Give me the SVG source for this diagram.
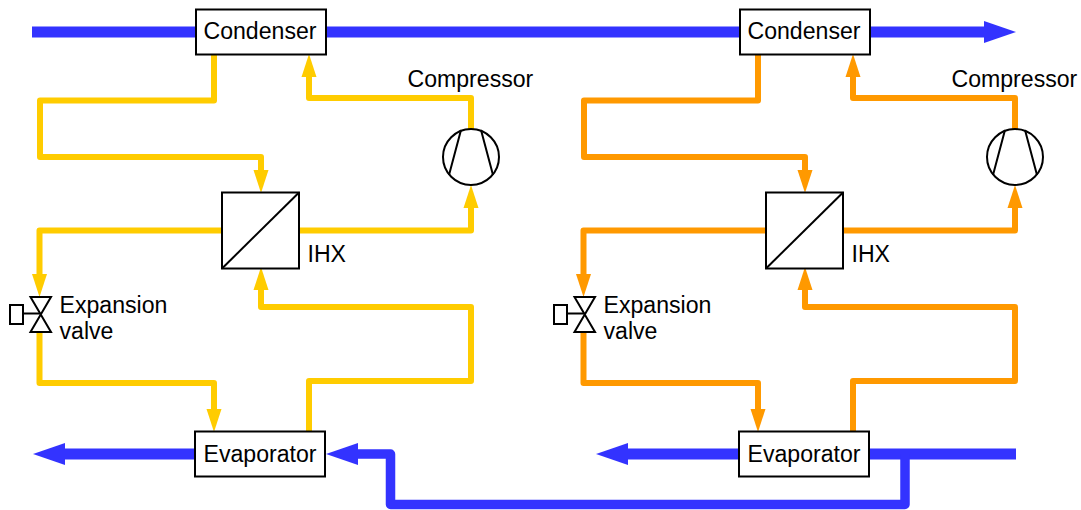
<svg xmlns="http://www.w3.org/2000/svg" width="1081" height="510" viewBox="0 0 1081 510">
<style>
text{font-family:"Liberation Sans",Arial,sans-serif;font-size:23.1px;fill:#000}
.box{fill:#fff;stroke:#000;stroke-width:2}
.sym{fill:#fff;stroke:#000;stroke-width:2}
.ln{fill:none;stroke:#000;stroke-width:2}
.y,.o,.b,.bt{fill:none;stroke-linejoin:round}
.y{stroke:#fc0;stroke-width:6}
.o{stroke:#f90;stroke-width:6}
.b{stroke:#33f;stroke-width:9.5}
.bt{stroke:#33f;stroke-width:11}
</style>
<defs>
<marker id="ay" markerUnits="userSpaceOnUse" markerWidth="24" markerHeight="16" viewBox="0 0 24 16" refX="0" refY="8" orient="auto"><path d="M0 0.5L23 8L0 15.5Z" fill="#fc0"/></marker>
<marker id="ao" markerUnits="userSpaceOnUse" markerWidth="24" markerHeight="16" viewBox="0 0 24 16" refX="0" refY="8" orient="auto"><path d="M0 0.5L23 8L0 15.5Z" fill="#f90"/></marker>
<marker id="ab" markerUnits="userSpaceOnUse" markerWidth="32" markerHeight="22" viewBox="0 0 32 22" refX="0" refY="11" orient="auto"><path d="M0 0L32 11L0 22Z" fill="#33f"/></marker>
<g id="comp-sym"><circle r="28" class="sym"/><path class="ln" d="M-10-27L-22 18M10-27L22 18"/></g>
<g id="hx-sym"><rect x="0" y="0" width="77" height="76" class="sym"/><path class="ln" d="M0 76L77 0"/></g>
<g id="valve-sym"><path class="sym" d="M30.500 297H51L30.500 332H51Z"/><rect x="10" y="305" width="13" height="19" class="sym"/><path class="ln" d="M23 313.500H40"/></g>
</defs>
<g id="connectors">
<path class="bt" d="M32 32H984" marker-end="url(#ab)"/>
<path class="bt" d="M195 454H65" marker-end="url(#ab)"/>
<path class="bt" d="M739 454H628" marker-end="url(#ab)"/>
<path class="bt" d="M869 454H1016"/>
<path class="b" d="M905 454V504.500H390.500V454H358" marker-end="url(#ab)"/>
<g id="left-circuit">
<path class="y" d="M214 55V100.500H40V157H261V170" marker-end="url(#ay)"/>
<path class="y" d="M471 129V98H309V77" marker-end="url(#ay)"/>
<path class="y" d="M299 230.500H471V208" marker-end="url(#ay)"/>
<path class="y" d="M222 230.500H39.500V274" marker-end="url(#ay)"/>
<path class="y" d="M39.500 332V383H214V409" marker-end="url(#ay)"/>
<path class="y" d="M309 431V381H471V307H261V290" marker-end="url(#ay)"/>
</g>
<g id="right-circuit">
<path class="o" d="M758 55V100.500H584V157H805V170" marker-end="url(#ao)"/>
<path class="o" d="M1015 129V98H853V77" marker-end="url(#ao)"/>
<path class="o" d="M843 230.500H1015V208" marker-end="url(#ao)"/>
<path class="o" d="M766 230.500H583.500V274" marker-end="url(#ao)"/>
<path class="o" d="M583.500 332V383H758V409" marker-end="url(#ao)"/>
<path class="o" d="M853 431V381H1015V307H805V290" marker-end="url(#ao)"/>
</g>
</g>
<g id="condenser-1"><rect class="box" x="196" y="9.500" width="130" height="45"/><text x="203.500" y="39">Condenser</text></g>
<g id="condenser-2"><rect class="box" x="740" y="9.500" width="130" height="45"/><text x="747.500" y="39">Condenser</text></g>
<g id="evaporator-1"><rect class="box" x="195" y="431.500" width="130" height="45"/><text x="203.500" y="462">Evaporator</text></g>
<g id="evaporator-2"><rect class="box" x="739" y="431.500" width="130" height="45"/><text x="747.500" y="462">Evaporator</text></g>
<g id="compressor-1"><use href="#comp-sym" x="471" y="157"/><text x="407.500" y="87">Compressor</text></g>
<g id="compressor-2"><use href="#comp-sym" x="1015" y="157"/><text x="951.500" y="87">Compressor</text></g>
<g id="ihx-1"><use href="#hx-sym" x="222" y="192.500"/><text x="307.500" y="262">IHX</text></g>
<g id="ihx-2"><use href="#hx-sym" x="766" y="192.500"/><text x="851.500" y="262">IHX</text></g>
<g id="valve-1"><use href="#valve-sym"/><text x="59.500" y="313">Expansion</text><text x="59.500" y="339">valve</text></g>
<g id="valve-2"><use href="#valve-sym" x="544"/><text x="603.500" y="313">Expansion</text><text x="603.500" y="339">valve</text></g>
</svg>
